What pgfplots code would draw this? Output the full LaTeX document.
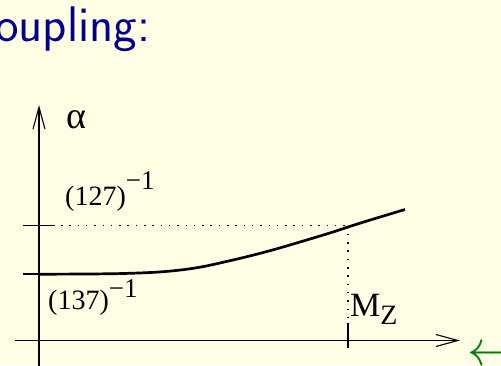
\documentclass[border=0pt]{standalone}
\usepackage{pgfplots}
\pgfplotsset{compat=1.18}
\usepackage{fontspec}
\setmainfont{Liberation Serif}
\usetikzlibrary{arrows.meta}
\definecolor{slidebg}{RGB}{255,255,229}
\definecolor{slidetitle}{RGB}{0,0,140}
\definecolor{slidegreen}{RGB}{0,128,0}
\begin{document}
\begin{tikzpicture}
\fill[slidebg] (0,0) rectangle (501pt,365pt);
\begin{axis}[
  at={(0,0)}, anchor=south west,
  scale only axis, width=501pt, height=365pt,
  xmin=-39, xmax=462, ymin=-24.5, ymax=340.5,
  hide axis, clip=false]
  % slide title
  \node[anchor=base west, inner sep=0, text=slidetitle,
        font=\sffamily\fontsize{50}{60}\selectfont] at (axis cs:-44,298.5) {oupling:};
  % axes
  \draw[line width=1.1pt, -{Straight Barb[length=22pt,width=12pt,line width=1.1pt]}]
    (axis cs:0,-26) -- (axis cs:0,235.5);
  \draw[line width=1.1pt, -{Straight Barb[length=22pt,width=12pt,line width=1.1pt]}]
    (axis cs:-24,0) -- (axis cs:421,0);
  % ticks on the alpha axis
  \draw[line width=1.1pt] (axis cs:-16,66.5) -- (axis cs:0,66.5);
  \draw[line width=1.1pt] (axis cs:-16,115) -- (axis cs:16,115);
  % guide lines to M_Z
  \draw[line width=1.2pt, dash pattern=on 1.5pt off 6.8pt] (axis cs:22,115) -- (axis cs:309,115);
  \draw[line width=1.2pt, dash pattern=on 1.5pt off 6.8pt] (axis cs:309,115) -- (axis cs:309,17.5);
  \draw[line width=1.1pt] (axis cs:309,17.5) -- (axis cs:309,-7.5);
  % running coupling
  \addplot[line width=2.7pt, smooth, tension=0.6] coordinates {
    (0,66.3) (30,66.4) (60,66.6) (91,67.2) (124,68.8) (158,72.8) (194,80.5)
    (228,89) (261,98.5) (294,108.5) (309,113.5) (328,119.5) (366,131)};
  % labels
  \node[anchor=center, inner sep=0, font=\fontsize{38}{44}\selectfont] at (axis cs:37,220.5) {α};
  \node[anchor=base west, inner sep=0, font=\fontsize{28}{33}\selectfont] at (axis cs:26,135.5)
    {(127)\raisebox{16pt}{\fontsize{27}{31}\selectfont −1}};
  \node[anchor=base west, inner sep=0, font=\fontsize{28}{33}\selectfont] at (axis cs:9,31.5)
    {(137)\raisebox{12pt}{\fontsize{27}{31}\selectfont −1}};
  \node[anchor=base west, inner sep=0, font=\fontsize{34}{40}\selectfont] at (axis cs:311,24.5)
    {M\raisebox{-8pt}{\fontsize{28}{32}\selectfont Z}};
  % next line of the slide
  \node[anchor=base west, inner sep=0, text=slidegreen] at (axis cs:428,-25)
    {\scalebox{5}{$\leftarrow$}};
\end{axis}
\pgfresetboundingbox
\path[use as bounding box] (0,0) rectangle (501pt,365pt);
\end{tikzpicture}
\end{document}
